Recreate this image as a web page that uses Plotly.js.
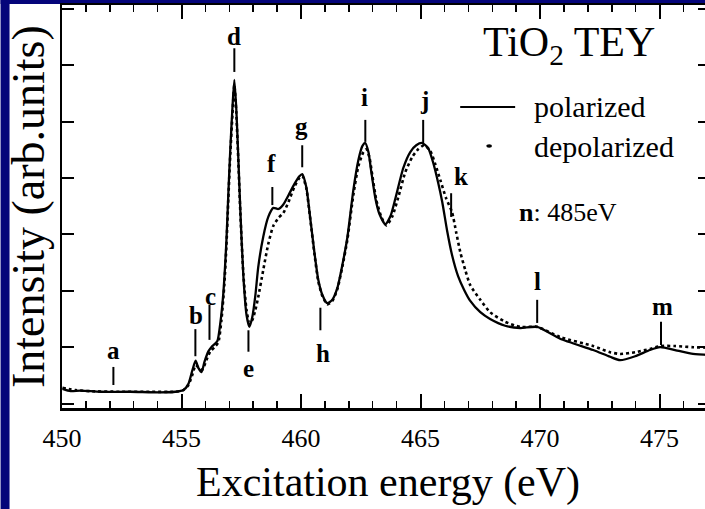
<!DOCTYPE html>
<html>
<head>
<meta charset="utf-8">
<script src="https://cdn.plot.ly/plotly-3.0.1.min.js"></script>
<style>
  html, body { margin: 0; padding: 0; width: 705px; height: 509px; overflow: hidden; background: #fff; }
  #chart { position: absolute; left: 0; top: 0; width: 715px; height: 509px; }
</style>
</head>
<body>
<div id="chart"></div>
<script>
// Ti L-edge TEY spectra of TiO2: polarized vs depolarized excitation
const energyPol = [450.02,450.36,450.77,451.61,452.86,454.12,454.74,455.08,455.29,455.46,455.59,455.71,455.84,455.96,456.13,456.29,456.50,456.63,456.75,456.88,456.96,457.04,457.13,457.21,457.29,457.38,457.46,457.59,457.72,457.84,457.96,458.09,458.21,458.42,458.63,458.84,459.05,459.26,459.47,459.72,459.93,460.05,460.22,460.39,460.56,460.72,460.89,461.10,461.31,461.52,461.73,461.94,462.19,462.40,462.57,462.69,462.82,462.94,463.11,463.28,463.53,463.74,463.95,464.28,464.57,464.82,465.07,465.32,465.53,465.74,465.91,466.11,466.32,466.57,466.83,467.08,467.50,467.91,468.54,469.17,469.88,470.84,472.22,472.93,473.35,473.98,474.60,475.02,475.65,476.40,477.11];
const intensityPol = [0.26,0.22,0.23,0.21,0.21,0.20,0.21,0.24,0.35,0.60,0.76,0.63,0.56,0.74,0.93,1.02,1.11,1.45,1.96,2.90,3.73,4.50,5.24,5.74,5.24,4.32,3.43,2.24,1.57,1.36,1.53,1.92,2.42,2.96,3.31,3.47,3.45,3.53,3.69,3.89,4.03,4.07,3.84,3.27,2.68,2.20,1.93,1.78,1.84,2.05,2.46,2.95,3.79,4.32,4.57,4.62,4.46,4.11,3.64,3.36,3.18,3.32,3.64,4.18,4.46,4.58,4.62,4.53,4.27,3.91,3.57,3.07,2.63,2.26,2.01,1.82,1.62,1.50,1.38,1.34,1.36,1.15,0.95,0.83,0.77,0.84,0.95,1.00,0.95,0.88,0.86];

const energyDep = [450.02,450.56,451.19,452.45,453.70,454.74,455.08,455.29,455.46,455.59,455.75,455.87,456.04,456.21,456.38,456.54,456.67,456.79,456.88,456.96,457.04,457.13,457.21,457.29,457.38,457.46,457.59,457.72,457.84,457.96,458.09,458.21,458.42,458.63,458.84,459.05,459.26,459.47,459.72,459.93,460.05,460.22,460.39,460.56,460.72,460.89,461.10,461.31,461.52,461.73,461.94,462.19,462.40,462.61,462.73,462.86,462.98,463.15,463.36,463.57,463.82,464.07,464.36,464.65,464.90,465.15,465.41,465.62,465.83,466.07,466.32,466.49,466.66,466.87,467.08,467.50,467.91,468.54,469.17,469.88,470.84,472.22,472.93,473.35,473.98,474.60,475.02,475.65,476.40,477.11];
const intensityDep = [0.28,0.24,0.22,0.21,0.21,0.21,0.24,0.33,0.52,0.68,0.63,0.60,0.77,0.93,1.00,1.09,1.48,2.10,2.81,3.64,4.41,5.12,5.65,5.17,4.27,3.40,2.28,1.66,1.43,1.48,1.66,1.89,2.37,2.83,3.15,3.29,3.38,3.57,3.84,4.00,4.04,3.82,3.26,2.66,2.17,1.91,1.76,1.82,2.03,2.43,2.91,3.70,4.21,4.46,4.51,4.37,4.05,3.61,3.31,3.16,3.32,3.66,4.10,4.37,4.51,4.58,4.48,4.24,3.96,3.64,3.39,3.04,2.69,2.37,2.10,1.84,1.62,1.45,1.36,1.36,1.18,1.02,0.91,0.88,0.91,0.97,1.02,1.02,1.00,0.99];

// Spectral features and the energies they point to
const featureNames    = ['a','b','c','d','e','f','g','h','i','j','k','l','m'];
const featureEnergies = [452.15,455.58,456.17,457.21,457.80,458.80,460.05,460.81,462.69,465.11,466.28,469.88,475.06];

const xTickVals = [450,455,460,465,470,475];
const seriesNames = ['polarized','depolarized'];

// marker placement: [tick bottom, tick top, label y, label x offset] in intensity units
const markerLayout = [
  [0.33,0.65,0.95,0],[0.84,1.32,1.56,0.02],[1.13,1.75,1.90,0.05],[5.88,6.30,6.50,0],
  [0.92,1.30,0.62,0],[3.52,3.84,4.25,-0.04],[4.19,4.58,4.92,-0.04],[1.30,1.70,0.88,0.1],
  [4.64,5.03,5.42,-0.04],[4.62,5.03,5.38,0.04],[3.31,3.73,4.02,0.42],[1.43,1.84,2.16,0],
  [1.04,1.45,1.72,0.05]
];

const serif = 'Liberation Serif';
const frameColor = '#05057a';

const traces = [
  { x: energyPol, y: intensityPol, name: seriesNames[0], type: 'scatter', mode: 'lines',
    line: { color: '#000', width: 2.3, shape: 'spline', smoothing: 0.6 } },
  { x: energyDep, y: intensityDep, name: seriesNames[1], type: 'scatter', mode: 'lines',
    line: { color: '#000', width: 2.6, dash: 'dot', shape: 'spline', smoothing: 0.6 } }
];

// slide frame: navy strips along the left and top edges
const shapes = [
  { type: 'rect', xref: 'paper', yref: 'paper', layer: 'below', x0: -0.0948, x1: -0.08096, y0: -0.2506, y1: 1.0124,
    fillcolor: frameColor, line: { width: 0 } },
  { type: 'rect', xref: 'paper', yref: 'paper', layer: 'below', x0: -0.0948, x1: 1.0077, y0: 1.0025, y1: 1.0124,
    fillcolor: frameColor, line: { width: 0 } }
];
const annotations = [];
featureNames.forEach((name, i) => {
  const [y0, y1, ly, dx] = markerLayout[i];
  shapes.push({ type: 'line', xref: 'x', yref: 'y', x0: featureEnergies[i], x1: featureEnergies[i],
                y0: y0, y1: y1, line: { color: '#000', width: 2 } });
  annotations.push({ xref: 'x', yref: 'y', x: featureEnergies[i] + dx, y: ly, text: '<b>' + name + '</b>',
                     showarrow: false, font: { family: serif, size: 25, color: '#000' },
                     xanchor: 'center', yanchor: 'middle' });
});

// legend drawn in paper space
shapes.push({ type: 'line', xref: 'paper', yref: 'paper', x0: 0.6145, x1: 0.6993, y0: 0.7469, y1: 0.7469,
              line: { color: '#000', width: 2.2 } });
shapes.push({ type: 'circle', xref: 'paper', yref: 'paper', x0: 0.6548, x1: 0.6636, y0: 0.6457, y1: 0.6545,
              fillcolor: '#000', line: { width: 0 } });
annotations.push(
  { xref: 'paper', yref: 'paper', x: 0.7255, y: 0.7469, text: seriesNames[0], showarrow: false,
    xanchor: 'left', yanchor: 'middle', font: { family: serif, size: 30, color: '#000' } },
  { xref: 'paper', yref: 'paper', x: 0.7255, y: 0.6501, text: seriesNames[1], showarrow: false,
    xanchor: 'left', yanchor: 'middle', font: { family: serif, size: 30, color: '#000' } },
  { xref: 'paper', yref: 'paper', x: 0.6467, y: 0.90, text: 'TiO<sub>2</sub> TEY', showarrow: false,
    xanchor: 'left', yanchor: 'middle', font: { family: serif, size: 42, color: '#000' } },
  { xref: 'paper', yref: 'paper', x: 0.7024, y: 0.4839, text: '<b>n</b>: 485eV', showarrow: false,
    xanchor: 'left', yanchor: 'middle', font: { family: serif, size: 26, color: '#000' } },
  // axis titles
  { xref: 'paper', yref: 'paper', x: 0.5027, y: -0.1861, text: 'Excitation energy (eV)', showarrow: false,
    xanchor: 'center', yanchor: 'middle', font: { family: serif, size: 42, color: '#000' } },
  { xref: 'paper', yref: 'paper', x: -0.0517, y: 0.5, text: 'Intensity (arb.units)', showarrow: false,
    textangle: -90, xanchor: 'center', yanchor: 'middle', font: { family: serif, size: 46, color: '#000' } }
);

const layout = {
  width: 715, height: 509,
  margin: { l: 61.5, r: 5, t: 5, b: 101 },
  paper_bgcolor: '#fff', plot_bgcolor: '#fff',
  font: { family: serif, color: '#000' },
  showlegend: false,
  xaxis: {
    range: [450, 477.11], tickvals: xTickVals, ticktext: xTickVals.map(String),
    ticks: 'inside', ticklen: 14, tickwidth: 2, tickcolor: '#000',
    minor: { dtick: 1, ticks: 'inside', ticklen: 7, tickwidth: 1.5, tickcolor: '#000' },
    showline: true, linecolor: '#000', linewidth: 2.5, mirror: 'ticks',
    showgrid: false, zeroline: false,
    tickfont: { family: serif, size: 26, color: '#000' }, ticklabelstandoff: 5
  },
  yaxis: {
    range: [-0.078, 7.067], tickvals: [0,1,2,3,4,5,6,7], showticklabels: false,
    ticks: 'inside', ticklen: 12, tickwidth: 2, tickcolor: '#000',
    showline: true, linecolor: '#000', linewidth: 2.5, mirror: 'ticks',
    showgrid: false, zeroline: false
  },
  shapes: shapes,
  annotations: annotations
};

Plotly.newPlot('chart', traces, layout, { staticPlot: true, displayModeBar: false });
</script>
</body>
</html>
